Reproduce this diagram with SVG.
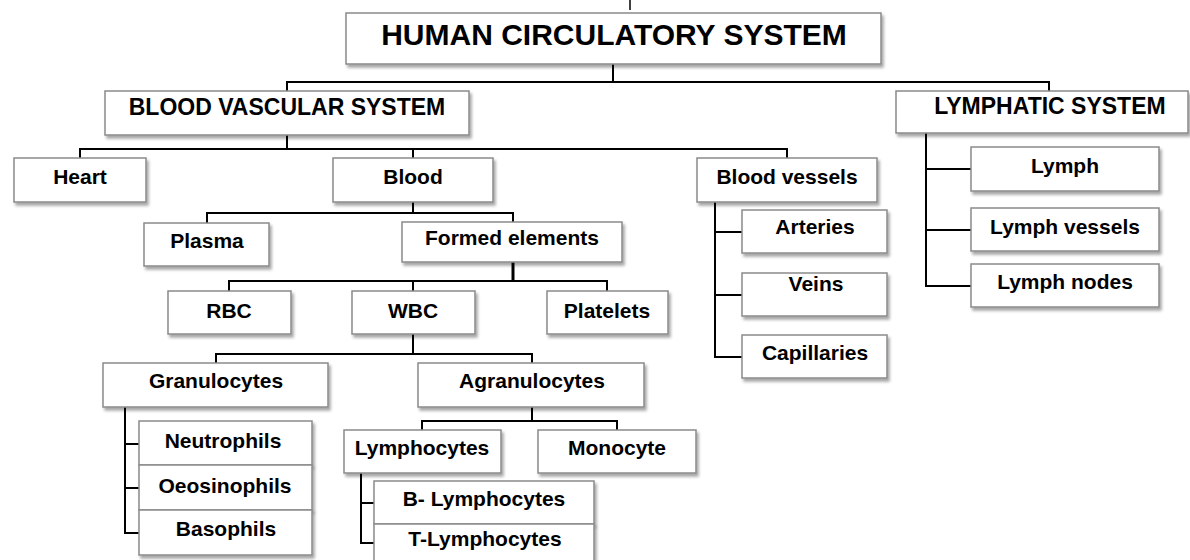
<svg xmlns="http://www.w3.org/2000/svg" width="1190" height="560" viewBox="0 0 1190 560">
<defs>
<filter id="sh" x="-10%" y="-20%" width="130%" height="160%">
<feDropShadow dx="2" dy="3" stdDeviation="1.8" flood-color="#000" flood-opacity="0.35"/>
</filter>
<style>
.box{fill:#fff;stroke:#8a8a8a;stroke-width:1.5;filter:url(#sh)}
.t{font-family:"Liberation Sans",Arial,sans-serif;font-weight:bold;font-size:21px;text-anchor:middle;fill:#000}
.big{font-size:23px}
.title{font-size:30px}
.c{fill:none;stroke:#000;stroke-width:2}
</style>
</defs>
<rect width="1190" height="560" fill="#fff"/>
<g id="connectors" class="c">
<path d="M630,0 V10" stroke-width="1.5"/>
<path d="M613,64 V82"/>
<path d="M287,91 V82 H1049 V91"/>
<path d="M287,135 V149"/>
<path d="M80,158 V149 H787 V158"/>
<path d="M413,149 V158"/>
<path d="M413,202 V213"/>
<path d="M207,223 V213 H513 V222"/>
<path d="M513,262 V281" stroke-width="3"/>
<path d="M229,291 V281 H607 V291"/>
<path d="M413,281 V291"/>
<path d="M413,334 V354"/>
<path d="M216,363 V354 H532 V363"/>
<path d="M125,407 V533 H139"/>
<path d="M125,444 H139"/>
<path d="M125,488 H139"/>
<path d="M532,407 V421"/>
<path d="M422,430 V421 H617 V430"/>
<path d="M361,473 V543 H374"/>
<path d="M361,503 H374"/>
<path d="M715,202 V357 H742"/>
<path d="M715,232 H742"/>
<path d="M715,295 H742"/>
<path d="M926,133 V286 H971"/>
<path d="M926,169 H971"/>
<path d="M926,230 H971"/>
</g>
<g id="human-circulatory-system"><rect class="box" x="346" y="13" width="535" height="51"/><text class="t title" x="614" y="45">HUMAN CIRCULATORY SYSTEM</text></g>
<g id="blood-vascular-system"><rect class="box" x="105" y="91" width="364" height="44"/><text class="t big" x="287" y="115">BLOOD VASCULAR SYSTEM</text></g>
<g id="lymphatic-system"><rect class="box" x="896" y="91" width="292" height="42"/><text class="t big" x="1050" y="114">LYMPHATIC SYSTEM</text></g>
<g id="heart"><rect class="box" x="14" y="158" width="132" height="44"/><text class="t" x="80" y="184">Heart</text></g>
<g id="blood"><rect class="box" x="333" y="158" width="160" height="44"/><text class="t" x="413" y="184">Blood</text></g>
<g id="blood-vessels"><rect class="box" x="697" y="158" width="180" height="44"/><text class="t" x="787" y="184">Blood vessels</text></g>
<g id="lymph"><rect class="box" x="971" y="147" width="188" height="44"/><text class="t" x="1065" y="173">Lymph</text></g>
<g id="lymph-vessels"><rect class="box" x="971" y="208" width="188" height="43"/><text class="t" x="1065" y="234">Lymph vessels</text></g>
<g id="lymph-nodes"><rect class="box" x="971" y="264" width="188" height="43"/><text class="t" x="1065" y="289">Lymph nodes</text></g>
<g id="arteries"><rect class="box" x="742" y="210" width="145" height="43"/><text class="t" x="815" y="234">Arteries</text></g>
<g id="veins"><rect class="box" x="742" y="273" width="145" height="43"/><text class="t" x="816" y="291">Veins</text></g>
<g id="capillaries"><rect class="box" x="742" y="335" width="145" height="43"/><text class="t" x="815" y="360">Capillaries</text></g>
<g id="plasma"><rect class="box" x="144" y="223" width="125" height="43"/><text class="t" x="207" y="248">Plasma</text></g>
<g id="formed-elements"><rect class="box" x="402" y="222" width="220" height="40"/><text class="t" x="512" y="245">Formed elements</text></g>
<g id="rbc"><rect class="box" x="168" y="291" width="123" height="43"/><text class="t" x="229" y="318">RBC</text></g>
<g id="wbc"><rect class="box" x="352" y="291" width="123" height="43"/><text class="t" x="413" y="318">WBC</text></g>
<g id="platelets"><rect class="box" x="547" y="291" width="121" height="43"/><text class="t" x="607" y="318">Platelets</text></g>
<g id="granulocytes"><rect class="box" x="103" y="363" width="225" height="44"/><text class="t" x="216" y="388">Granulocytes</text></g>
<g id="agranulocytes"><rect class="box" x="418" y="363" width="226" height="44"/><text class="t" x="532" y="388">Agranulocytes</text></g>
<g id="neutrophils"><rect class="box" x="139" y="421" width="173" height="44"/><text class="t" x="223" y="448">Neutrophils</text></g>
<g id="oeosinophils"><rect class="box" x="139" y="465" width="173" height="45"/><text class="t" x="225" y="493">Oeosinophils</text></g>
<g id="basophils"><rect class="box" x="139" y="510" width="173" height="45"/><text class="t" x="226" y="536">Basophils</text></g>
<g id="lymphocytes"><rect class="box" x="344" y="430" width="157" height="43"/><text class="t" x="422" y="455">Lymphocytes</text></g>
<g id="monocyte"><rect class="box" x="538" y="430" width="158" height="43"/><text class="t" x="617" y="455">Monocyte</text></g>
<g id="b-lymphocytes"><rect class="box" x="374" y="481" width="220" height="43"/><text class="t" x="484" y="506">B- Lymphocytes</text></g>
<g id="t-lymphocytes"><rect class="box" x="374" y="524" width="220" height="44"/><text class="t" x="485" y="546">T-Lymphocytes</text></g>
</svg>
